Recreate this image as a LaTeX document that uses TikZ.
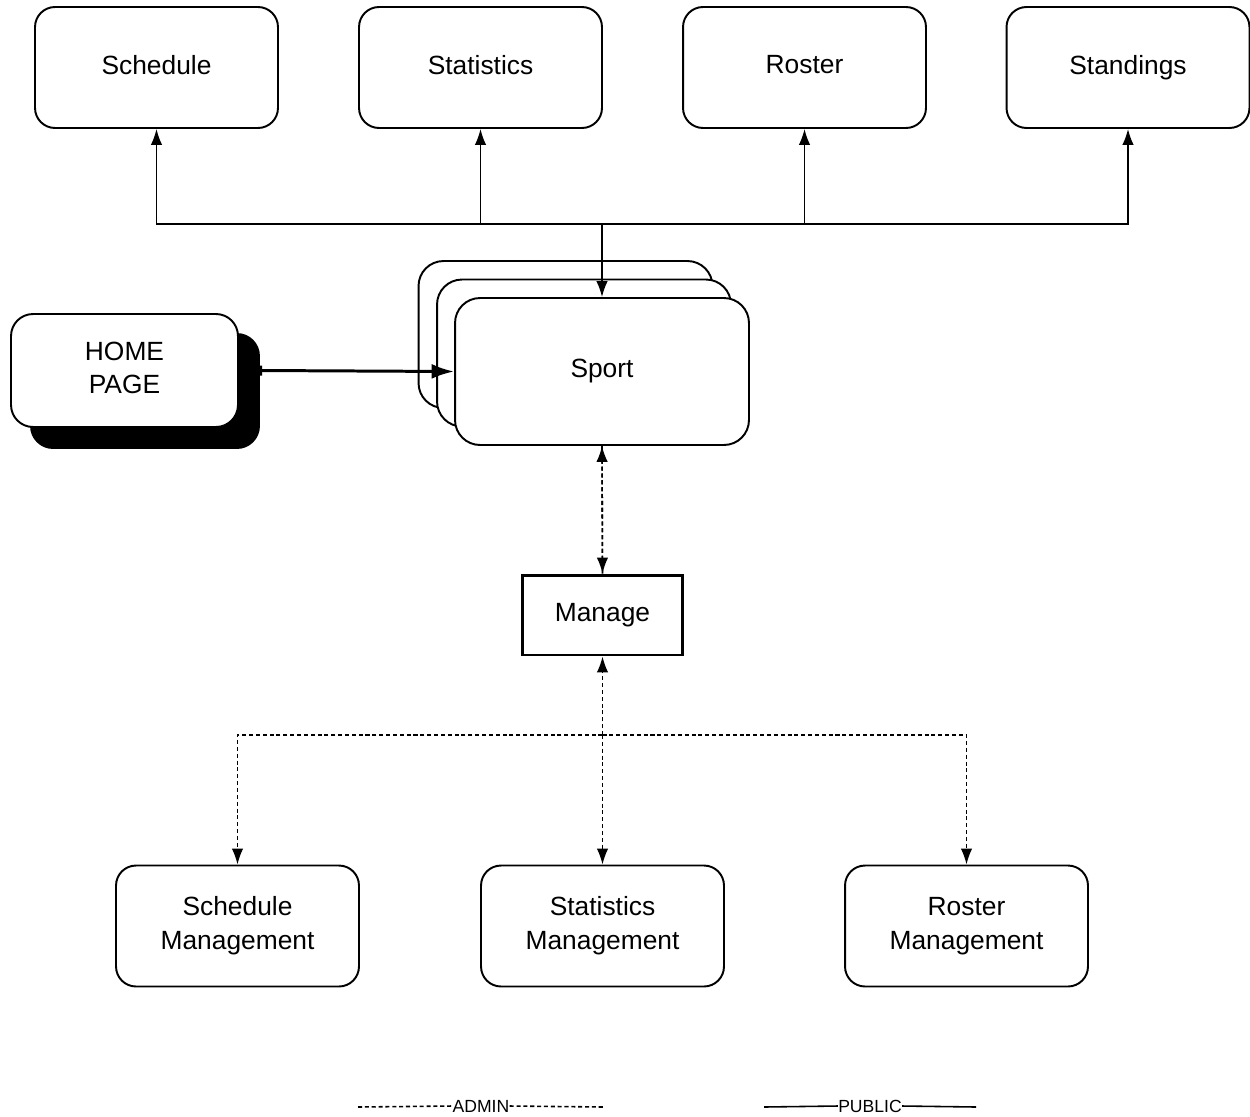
\documentclass[tikz,border=0pt]{standalone}
\usepackage{fontspec}
\setmainfont{Liberation Sans}
\usetikzlibrary{arrows.meta}
\begin{document}
\begin{tikzpicture}[x=0.02cm,y=-0.02cm,
  box/.style={draw, line width=1.1pt, rounded corners=0.4cm, fill=white,
    minimum width=4.86cm, minimum height=2.42cm, align=center,
    font=\fontsize{15}{19.5}\selectfont, inner sep=0pt,
    execute at begin node={\vphantom{Sg}}},
  sportbox/.style={draw, line width=1.1pt, rounded corners=0.5cm, fill=white,
    minimum width=5.88cm, minimum height=2.94cm, inner sep=0pt},
  pub/.style={line width=0.9pt, -{Latex[length=3.2mm,width=2.3mm]}},
  adm/.style={line width=0.9pt, dash pattern=on 2.3pt off 1.6pt},
  tip/.style={-{Latex[length=3.2mm,width=2.3mm]}},
  legend/.style={font=\fontsize{10}{12}\selectfont, inner sep=0pt}]
\useasboundingbox (0,0) rectangle (1250,1116);

% top row
\node[box] (schedule) at (156.5,67.5) {Schedule};
\node[box] (statistics) at (480.5,67.5) {Statistics};
\node[box] (roster) at (804.5,67.5) {Roster};
\node[box] (standings) at (1128,67.5) {Standings};

% sport stack
\node[sportbox] (sport3) at (565.5,334.5) {};
\node[sportbox] (sport2) at (584,353) {};
\node[sportbox, font=\fontsize{15}{18}\selectfont] (sport) at (602,371.5) {\vphantom{Sg}Sport};

% home page with shadow
\node[box, fill=black, minimum width=4.56cm, minimum height=2.28cm, rounded corners=0.44cm] (homeshadow) at (145,391) {};
\node[box, font=\fontsize{15}{18.5}\selectfont, minimum width=4.54cm, minimum height=2.26cm, rounded corners=0.44cm] (home) at (124.5,370.5) {HOME\\PAGE};

% manage
\node[draw, line width=1.7pt, minimum width=3.2cm, minimum height=1.6cm,
  font=\fontsize{15}{18}\selectfont, inner sep=0pt] (manage) at (602.5,615) {\vphantom{Sg}Manage};

% bottom row
\node[box] (schedmgmt) at (237.5,926) {Schedule\\Management};
\node[box] (statmgmt) at (602.5,926) {Statistics\\Management};
\node[box] (rostmgmt) at (966.5,926) {Roster\\Management};

% public connectors
\coordinate (jt) at (602,224);
\draw[pub] (jt) -- (sport.north);
\draw[pub] (jt) -| (schedule.south);
\draw[pub] (jt) -| (statistics.south);
\draw[pub] (jt) -| (roster.south);
\draw[pub] (jt) -| (standings.south);

% home -> sport
\draw[line width=1.7pt, {Bar[width=2mm,line width=1.2pt]}-{Latex[length=4.5mm,width=3mm]}] (homeshadow.east |- home.east) -- (sport.west);

% admin connectors
\draw[adm, tip] (sport.south) -- (manage.north);
\draw[adm, tip] (manage.north) -- (sport.south);
\coordinate (jb) at (602.5,735);
\draw[adm, tip] (jb) -- (manage.south);
\draw[adm, tip] (jb) -- (statmgmt.north);
\draw[adm, tip] (jb) -| (schedmgmt.north);
\draw[adm, tip] (jb) -| (rostmgmt.north);

% legend
\node[legend] (admin) at (481,1106) {ADMIN};
\draw[adm] (358,1107) -- (admin.west);
\draw[adm] (admin.east) -- (603,1107);
\node[legend] (public) at (870,1106) {PUBLIC};
\draw[line width=0.9pt] (764,1107) -- (public.west);
\draw[line width=0.9pt] (public.east) -- (976,1107);
\end{tikzpicture}
\end{document}
